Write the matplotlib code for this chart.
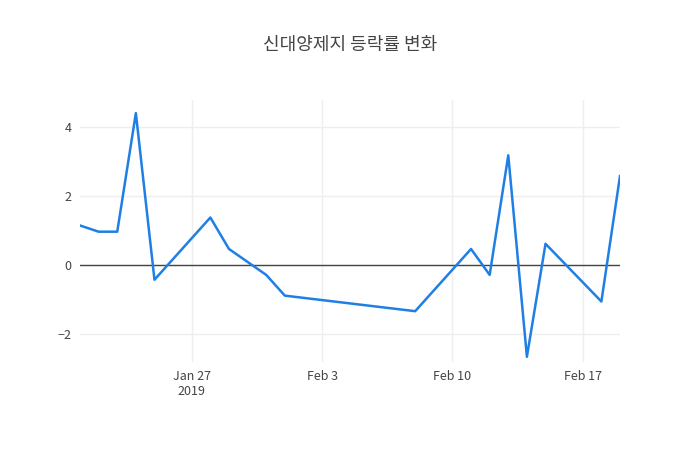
import matplotlib
matplotlib.use('Agg')
import matplotlib.pyplot as plt
import matplotlib.dates as mdates
import pandas as pd

plt.rcParams['font.family'] = ['Noto Sans CJK KR', 'DejaVu Sans']

dates = ['2019-01-21', '2019-01-22', '2019-01-23', '2019-01-24', '2019-01-25',
         '2019-01-28', '2019-01-29', '2019-01-31', '2019-02-01', '2019-02-08',
         '2019-02-11', '2019-02-12', '2019-02-13', '2019-02-14', '2019-02-15',
         '2019-02-18', '2019-02-19']
values = [1.15, 0.97, 0.97, 4.4, -0.42, 1.38, 0.47, -0.28, -0.88, -1.33,
          0.47, -0.28, 3.18, -2.65, 0.62, -1.05, 2.58]
tick_dates = ['2019-01-27', '2019-02-03', '2019-02-10', '2019-02-17']
tick_labels = ['Jan 27\n2019', 'Feb 3', 'Feb 10', 'Feb 17']

x = pd.to_datetime(dates)

fig = plt.figure(figsize=(7, 4.5), dpi=100)
ax = fig.add_axes([80/700, 1 - 362/450, 540/700, 262/450])
ax.plot(x, values, color='#1f7fe5', linewidth=1.8, zorder=3)
ax.axhline(0, color='#444444', linewidth=1, zorder=2)

ax.set_xlim(x[0], x[-1])
ax.set_ylim(-2.8, 4.78)
ax.set_yticks([-2, 0, 2, 4])
ax.set_yticklabels(['−2', '0', '2', '4'])
ax.set_xticks(pd.to_datetime(tick_dates))
ax.set_xticklabels(tick_labels)
ax.grid(True, color='#eeeeee', linewidth=1, zorder=0)
for s in ax.spines.values():
    s.set_visible(False)
ax.tick_params(length=0, labelsize=9, colors='#444444', pad=6)

fig.text(0.5, 1 - 45/450, '신대양제지 등락률 변화', ha='center', va='center',
         fontsize=13, color='#444444')

fig.savefig('out.png', dpi=100)
